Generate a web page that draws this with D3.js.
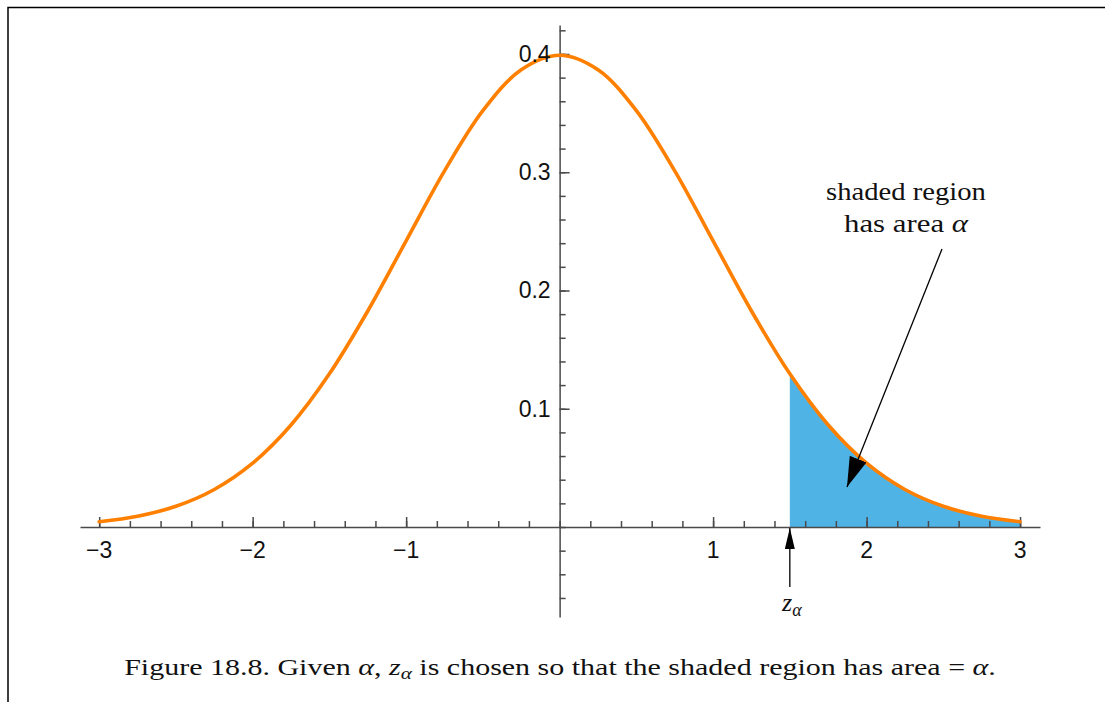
<!DOCTYPE html>
<html>
<head>
<meta charset="utf-8">
<script src="https://cdn.jsdelivr.net/npm/d3@7"></script>
<style>
  html, body { margin: 0; padding: 0; background: #fff; }
  svg { display: block; }
</style>
</head>
<body>
<svg id="chart" width="1105" height="702"></svg>
<script>
// Standard normal density, sampled every 0.25 on [-3, 3]
const zValues = [-3, -2.75, -2.5, -2.25, -2, -1.75, -1.5, -1.25, -1, -0.75, -0.5, -0.25,
                 0, 0.25, 0.5, 0.75, 1, 1.25, 1.5, 1.75, 2, 2.25, 2.5, 2.75, 3];
const density = [0.00443, 0.00909, 0.01753, 0.03174, 0.05399, 0.08628, 0.12952, 0.18265,
                 0.24197, 0.30114, 0.35207, 0.38667, 0.39894, 0.38667, 0.35207, 0.30114,
                 0.24197, 0.18265, 0.12952, 0.08628, 0.05399, 0.03174, 0.01753, 0.00909, 0.00443];

const zAlpha = 1.5;
const xTickLabels = [-3, -2, -1, 1, 2, 3];
const yTickLabels = [0.1, 0.2, 0.3, 0.4];
const xMinorTicks = d3.range(-15, 16).map(i => i / 5);
const yMinorTicks = d3.range(-3, 22).map(i => i / 50);

const svg = d3.select("#chart");

const x = d3.scaleLinear().domain([-3.125, 3.13]).range([80, 1040]);
const y = d3.scaleLinear().domain([-0.0761, 0.4245]).range([617, 25]);

const pts = zValues.map((z, i) => ({ z, d: density[i] }));
const tail = pts.filter(p => p.z >= zAlpha);

// frame lines
svg.append("path")
  .attr("d", "M8,702 L8,7.5 L1105,7.5")
  .attr("fill", "none").attr("stroke", "#000").attr("stroke-width", 1.5);

// shaded tail region
svg.append("path")
  .datum(tail)
  .attr("fill", "#50b3e6")
  .attr("d", d3.area().x(p => x(p.z)).y0(y(0)).y1(p => y(p.d)).curve(d3.curveCatmullRom));

// axes
const axisColor = "#4a4a4a";
const gx = svg.append("g").attr("transform", `translate(0,${y(0)})`)
  .call(d3.axisTop(x).tickValues(xMinorTicks).tickSize(6).tickSizeOuter(0).tickFormat(""));
gx.append("g").call(d3.axisTop(x).tickValues(xTickLabels).tickSize(10).tickSizeOuter(0).tickFormat(""))
  .select(".domain").remove();
gx.selectAll("path, line").attr("stroke", axisColor).attr("stroke-width", 1.5);

const gy = svg.append("g").attr("transform", `translate(${x(0)},0)`)
  .call(d3.axisRight(y).tickValues(yMinorTicks).tickSize(6).tickSizeOuter(0).tickFormat(""));
gy.append("g").call(d3.axisRight(y).tickValues(yTickLabels).tickSize(10).tickSizeOuter(0).tickFormat(""))
  .select(".domain").remove();
gy.selectAll("path, line").attr("stroke", axisColor).attr("stroke-width", 1.5);

// density curve
svg.append("path")
  .datum(pts)
  .attr("fill", "none")
  .attr("stroke", "#ff8000")
  .attr("stroke-width", 3.6)
  .attr("stroke-linecap", "round")
  .attr("d", d3.line().x(p => x(p.z)).y(p => y(p.d)).curve(d3.curveCatmullRom));

// tick labels
const sans = "Liberation Sans, Arial, sans-serif";
const fmtX = d => (d < 0 ? "\u2212" : "") + Math.abs(d);
svg.append("g").selectAll("text").data(xTickLabels).join("text")
  .attr("x", d => x(d)).attr("y", y(0) + 31)
  .attr("text-anchor", "middle")
  .attr("font-family", sans)
  .attr("font-size", 23).attr("fill", "#111")
  .text(fmtX);

svg.append("g").selectAll("text").data(yTickLabels).join("text")
  .attr("x", x(0) - 9).attr("y", d => y(d) + 8)
  .attr("text-anchor", "end")
  .attr("font-family", sans)
  .attr("font-size", 23).attr("fill", "#111")
  .text(d => d.toFixed(1));

// arrow markers
const defs = svg.append("defs");
defs.append("marker").attr("id", "bigHead")
  .attr("viewBox", "0 0 30 18").attr("refX", 30).attr("refY", 9)
  .attr("markerWidth", 30).attr("markerHeight", 18)
  .attr("markerUnits", "userSpaceOnUse").attr("orient", "auto")
  .append("path").attr("d", "M0,0 L30,9 L0,18 Z").attr("fill", "#000");
defs.append("marker").attr("id", "smallHead")
  .attr("viewBox", "0 0 21 10").attr("refX", 21).attr("refY", 5)
  .attr("markerWidth", 21).attr("markerHeight", 10)
  .attr("markerUnits", "userSpaceOnUse").attr("orient", "auto")
  .append("path").attr("d", "M0,0 L21,5 L0,10 Z").attr("fill", "#000");

// pointer into the shaded region
svg.append("line")
  .attr("x1", 942).attr("y1", 249).attr("x2", 847).attr("y2", 487)
  .attr("stroke", "#000").attr("stroke-width", 1.3)
  .attr("marker-end", "url(#bigHead)");

// pointer to z_alpha on the axis
svg.append("line")
  .attr("x1", x(zAlpha)).attr("y1", 587).attr("x2", x(zAlpha)).attr("y2", y(0) + 1)
  .attr("stroke", "#000").attr("stroke-width", 1.3)
  .attr("marker-end", "url(#smallHead)");

const serif = "Liberation Serif, Times New Roman, serif";

// stretch a centred serif text horizontally to a given width
function widenTo(sel, cx, width) {
  const w = sel.node().getComputedTextLength();
  const k = width / w;
  sel.attr("transform", `translate(${cx},0) scale(${k},1) translate(${-cx},0)`);
}

// annotation
const note1 = svg.append("text")
  .attr("x", 906).attr("y", 200)
  .attr("font-family", serif).attr("font-size", 25).attr("fill", "#111")
  .attr("text-anchor", "middle").text("shaded region");
widenTo(note1, 906, 160);
const note2 = svg.append("text")
  .attr("x", 906).attr("y", 232)
  .attr("font-family", serif).attr("font-size", 25).attr("fill", "#111")
  .attr("text-anchor", "middle");
note2.append("tspan").text("has area ");
note2.append("tspan").attr("font-style", "italic").text("\u03b1");
widenTo(note2, 906, 124);

// z_alpha label
const zl = svg.append("text")
  .attr("x", x(zAlpha) + 2).attr("y", 611)
  .attr("font-family", serif).attr("font-size", 26).attr("fill", "#111")
  .attr("text-anchor", "middle");
zl.append("tspan").attr("font-style", "italic").text("z");
zl.append("tspan").attr("font-style", "italic").attr("font-size", 18).attr("dy", 5).text("\u03b1");

// caption
const cap = svg.append("text")
  .attr("x", 560).attr("y", 675)
  .attr("font-family", serif).attr("font-size", 24).attr("fill", "#111")
  .attr("text-anchor", "middle");
cap.append("tspan").text("Figure 18.8. Given ");
cap.append("tspan").attr("font-style", "italic").text("\u03b1");
cap.append("tspan").text(", ");
cap.append("tspan").attr("font-style", "italic").text("z");
cap.append("tspan").attr("font-style", "italic").attr("font-size", 17).attr("dy", 4).text("\u03b1");
cap.append("tspan").attr("dy", -4).text(" is chosen so that the shaded region has area = ");
cap.append("tspan").attr("font-style", "italic").text("\u03b1");
cap.append("tspan").text(".");
widenTo(cap, 560, 872);
</script>
</body>
</html>
